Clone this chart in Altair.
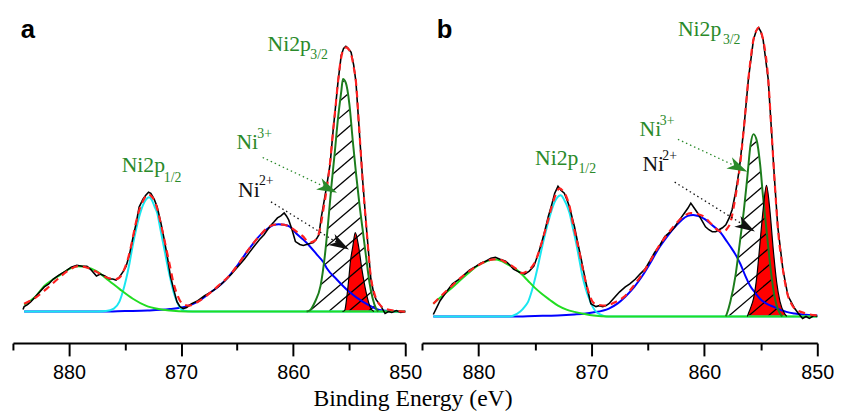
import altair as alt
import pandas as pd
import numpy as np

# ---------------- panel a ----------------
a_raw_E = [884.1, 884.0, 883.7, 883.4, 883.0, 882.6, 882.2, 881.8, 881.4, 880.9, 880.3, 879.8, 879.3, 878.8,
           878.4, 878.0, 877.55, 877.2, 876.8, 876.4, 876.1, 875.8, 875.5, 875.2, 874.9, 874.6, 874.33, 874.0,
           873.74, 873.4, 873.15, 872.9, 872.7, 872.4, 872.13, 871.8, 871.5, 871.2, 870.95, 870.65, 870.37,
           870.1, 869.8, 869.5, 869.05, 868.5, 867.9, 867.3, 866.7, 866.1, 865.5, 864.9, 864.36, 863.9, 863.5,
           863.0, 862.6, 862.1, 861.7, 861.4, 861.1, 860.8, 860.6, 860.4, 860.1, 859.8, 859.4, 859.1, 858.8,
           858.5, 858.2, 857.9, 857.7, 857.5, 857.3, 857.0, 856.7, 856.44, 856.2, 856.0, 855.71, 855.5, 855.3,
           855.1, 854.83, 854.6, 854.4, 854.1, 853.8, 853.45, 853.07, 852.8, 852.6, 852.2, 851.8, 851.5, 851.2,
           850.8, 850.4, 850.0]
a_raw_I = [2, 5, 7, 10, 15, 20, 25, 28, 33, 37, 41, 45, 47, 46,
           46, 42, 36, 38, 36, 33, 33, 32, 35, 40, 46, 58, 73, 90,
           106, 114, 118, 121, 120, 114, 106, 90, 73, 54, 36, 22, 10,
           5, 3, 4, 8, 11, 16, 20, 25, 31, 38, 46, 53, 60, 66,
           73, 78, 86, 91, 95, 97, 100, 97, 93, 83, 71, 68, 67, 68,
           69, 70, 74, 78, 95, 108, 128, 150, 183, 210, 233, 260, 267, 269,
           267, 263, 250, 233, 183, 133, 83, 33, 18, 12, 6, -2, 0, -1,
           1, -1, 0]

a_fit_E = [884.0, 883.0, 882.0, 881.0, 880.0, 879.2, 878.5, 877.5, 876.5, 875.8, 875.3, 875.06, 874.75, 874.47,
           874.03, 873.7, 873.45, 873.15, 872.9, 872.65, 872.4, 872.1, 871.83, 871.55, 871.25, 870.95, 870.7,
           870.4, 870.1, 869.7, 869.3, 868.5, 867.3, 866.5, 865.8, 864.9, 864.1, 863.5, 862.9, 862.3, 861.7,
           861.2, 860.8, 860.3, 859.7, 859.1, 858.8, 858.5, 858.2, 857.9, 857.6, 857.3, 857.0, 856.7, 856.44,
           856.2, 856.0, 855.71, 855.45, 855.27, 855.05, 854.83, 854.6, 854.4, 854.1, 853.8, 853.45, 853.07,
           852.8, 852.6, 852.2, 851.8, 851.0, 850.0]
a_fit_I = [8, 14, 23, 33, 42, 46, 45, 40, 34, 33, 37, 43, 53, 66,
           90, 104, 111, 117, 119, 117, 113, 103, 90, 76, 60, 44, 30,
           19, 11, 7, 6, 10, 20, 28, 35, 48, 61, 70, 78, 85, 88,
           88.5, 88, 86, 81, 76, 72, 70, 71, 74, 84, 104, 125, 152, 183,
           210, 233, 258, 267, 268, 266, 261, 248, 233, 184, 133, 83, 35,
           20, 13, 6, 3, 1, 0]

a_blue_E = [884.0, 877.0, 875.0, 873.0, 871.0, 869.6, 868.5, 867.3, 866.5, 865.8, 864.9, 864.1, 863.5, 862.9,
            862.3, 861.7, 861.3, 860.8, 860.3, 859.7, 859.1, 858.5, 857.9, 857.3, 857.0, 856.15, 855.0, 853.8,
            853.0, 852.3, 851.5, 850.0]
a_blue_I = [0, 0, 0.5, 1, 2.5, 5, 10, 20, 27, 35, 48, 61, 70, 78,
            84, 88, 88.5, 88, 86, 79, 73, 66, 58, 50, 44, 33, 20, 10,
            5, 1.5, 0.5, 0]

a_cyan_E = [884.0, 877.5, 876.7, 876.0, 875.5, 875.2, 874.9, 874.6, 874.33, 874.0, 873.74, 873.4, 873.1, 872.86,
            872.6, 872.35, 872.13, 871.85, 871.54, 871.25, 870.95, 870.65, 870.37, 870.1, 869.8, 869.0, 850.0]
a_cyan_I = [0, 0, 0.5, 3, 10, 20, 33, 49, 66, 84, 96, 108, 114, 116,
            113, 106, 100, 84, 66, 49, 33, 19, 10, 4, 1, 0, 0]

a_green_E = [884.0, 883.0, 882.2, 881.5, 880.8, 880.0, 879.2, 878.4, 877.55, 876.4, 875.5, 874.3, 873.15, 872.0,
             871.0, 869.5, 850.0]
a_green_I = [7, 15, 26, 32, 37, 43, 46, 45, 41, 31, 23, 13, 6, 2.5,
             1, 0, 0]

a_ni3_E = [858.8, 858.5, 858.06, 857.56, 857.18, 856.88, 856.6, 856.3, 856.0, 855.71, 855.56, 855.3, 854.98,
           854.68, 854.39, 854.1, 853.8, 853.5, 853.2, 852.9, 852.6, 852.4]
a_ni3_I = [0, 1.3, 9.7, 26, 56, 90, 126, 160, 196, 223, 236, 232, 210,
           173, 140, 110, 83, 56, 30, 13, 3, 0]

a_ni2_E = [855.6, 855.4, 855.2, 855.04, 854.9, 854.68, 854.46, 854.16, 853.87, 853.5, 853.07, 852.8]
a_ni2_I = [0, 1.3, 16, 33, 50, 66, 80, 66, 43, 20, 3, 0]

# ---------------- panel b ----------------
b_raw_E = [884.0, 883.7, 883.4, 882.9, 882.3, 881.8, 881.4, 880.8, 880.2, 879.8, 879.35, 878.9, 878.5, 878.1,
           877.6, 877.2, 876.9, 876.4, 875.9, 875.5, 875.1, 874.75, 874.4, 874.1, 873.83, 873.5, 873.25,
           872.96, 872.7, 872.4, 872.15, 871.94, 871.7, 871.5, 871.2, 870.9, 870.5, 870.05, 869.6, 869.3, 869.0,
           868.7, 868.45, 867.9, 867.5, 867.0, 866.6, 866.1, 865.7, 865.25, 864.8, 864.4, 863.9, 863.5, 863.0,
           862.6, 862.2, 861.76, 861.45, 861.2, 860.9, 860.6, 860.2, 859.9, 859.6, 859.3, 859.0, 858.7, 858.4,
           858.1, 857.8, 857.55, 857.25, 857.1, 856.9, 856.5, 856.1, 855.65, 855.4, 855.2, 855.0, 854.8, 854.35,
           854.07, 853.8, 853.5, 853.05, 852.6, 852.0, 851.6, 851.3, 851.0, 850.7, 850.3, 850.0]
b_raw_I = [2, 9, 16, 24, 33, 37, 41, 47, 51, 54, 56, 59, 60, 58,
           56, 52, 48, 45, 43, 46, 51, 62, 75, 88, 101, 114, 125,
           132, 128, 125, 118, 111, 100, 91, 74, 58, 35, 13, 10, 11, 10,
           11, 13, 20, 25, 30, 33, 38, 43, 48, 57, 65, 73, 81, 86,
           91, 98, 105, 110, 115, 110, 105, 97, 91, 88, 86, 86, 88, 90,
           93, 100, 108, 125, 135, 150, 191, 241, 281, 290, 293, 289, 281, 241,
           191, 141, 91, 48, 21, 8, 2, -2, 0, -2, 1, 0]

b_fit_E = [884.0, 883.2, 882.27, 881.5, 880.8, 880.0, 879.35, 878.6, 878.2, 877.6, 877.0, 876.5, 876.16, 875.7,
           875.3, 875.0, 874.7, 874.4, 874.1, 873.83, 873.5, 873.25, 873.0, 872.8, 872.5, 872.2, 871.9, 871.65,
           871.35, 871.06, 870.8, 870.5, 870.2, 869.9, 869.5, 868.7, 868.0, 867.0, 866.2, 865.5, 864.8, 864.1,
           863.3, 862.6, 861.9, 861.2, 860.6, 860.0, 859.4, 858.85, 858.5, 858.27, 858.0, 857.7, 857.45, 857.25,
           856.9, 856.5, 856.1, 855.65, 855.4, 855.2, 855.0, 854.8, 854.35, 854.07, 853.8, 853.5, 853.05, 852.6,
           852.3, 852.0, 851.0, 850.0]
b_fit_I = [13, 22, 32, 40, 46, 52, 56, 58, 58, 55, 51, 47, 44, 46,
           50, 55, 64, 75, 87, 98, 112, 121, 128, 130, 127, 121, 110, 95,
           80, 65, 50, 35, 23, 15, 12, 11, 14, 21, 32, 43, 56, 70,
           83, 93, 101, 105, 104, 101, 94, 88, 86, 86, 89, 95, 108, 121,
           148, 191, 241, 281, 290, 293, 289, 281, 241, 191, 141, 91, 48, 21,
           13, 8, 3, 1]

b_blue_E = [884.0, 877.0, 875.0, 873.0, 871.5, 870.5, 869.9, 868.45, 867.7, 867.0, 866.2, 865.5, 864.8, 864.1,
            863.3, 862.6, 862.0, 861.47, 861.0, 860.6, 860.0, 859.46, 858.56, 858.0, 857.7, 857.2, 856.8, 856.4,
            855.94, 855.5, 855.07, 854.5, 853.9, 853.3, 852.74, 852.0, 851.3, 850.0]
b_blue_I = [0, 0, 0.5, 1, 2, 3, 4, 8, 13, 20, 30, 41, 54, 68,
            81, 91, 98, 102, 103, 102, 99, 94, 85, 76, 71, 62, 53, 42,
            31, 24, 18, 13, 10, 7, 4.7, 3, 2, 1]

b_cyan_E = [884.0, 877.2, 876.9, 876.3, 875.9, 875.6, 875.3, 875.0, 874.7, 874.42, 874.05, 873.7, 873.3, 873.0,
            872.72, 872.4, 872.15, 871.94, 871.65, 871.36, 871.06, 870.8, 870.5, 870.2, 869.9, 869.6, 869.2,
            868.7, 850.0]
b_cyan_I = [0, 0, 1, 5, 10, 15, 25, 38, 53, 68, 86, 101, 115, 121,
            123, 118, 112, 105, 90, 75, 57, 41, 28, 18, 10, 5, 2,
            0, 0]

b_green_E = [884.0, 883.2, 882.27, 881.5, 880.8, 880.0, 879.3, 878.63, 877.9, 877.3, 876.7, 876.1, 875.6, 875.0,
             874.4, 873.7, 872.96, 872.2, 871.5, 870.6, 869.8, 868.5, 850.0]
b_green_I = [13, 21, 30, 38, 45, 52, 56, 58, 56, 52, 48, 42, 36, 29,
             23, 17, 11, 7, 4.7, 2.5, 1, 0, 0]

b_ni3_E = [858.1, 858.0, 857.7, 857.25, 856.86, 856.5, 856.2, 855.9, 855.65, 855.35, 855.07, 854.8, 854.5,
           854.2, 853.9, 853.6, 853.3, 853.1]
b_ni3_I = [0, 3, 15, 41, 75, 108, 141, 175, 185, 178, 155, 121, 88,
           55, 28, 11, 3, 0]

b_ni2_E = [856.2, 856.1, 855.9, 855.65, 855.35, 855.07, 854.8, 854.5, 854.2, 853.9, 853.6, 853.3, 852.9, 852.7]
b_ni2_I = [0, 3, 9, 18, 41, 75, 108, 133, 108, 68, 35, 15, 3, 0]

# ---------------- annotations ----------------
ann_main_text = ["Ni2p", "Ni2p", "Ni", "Ni"]
ann_sub_text = ["3/2", "1/2", "3+", "2+"]
ann_color = ["#2a8a2a", "#2a8a2a", "#2a8a2a", "#111111"]
a_main_E = [862.28, 875.3, 865.06, 864.92]
a_main_I = [264.7, 141.3, 164.7, 116.3]
a_sub_E = [858.47, 871.54, 863.2, 863.05]
a_sub_I = [255.7, 131.3, 176.3, 128.0]
b_main_E = [862.34, 874.99, 865.74, 865.48]
b_main_I = [284.7, 154.0, 183.0, 147.3]
b_sub_E = [858.36, 871.15, 863.94, 863.73]
b_sub_I = [276.3, 145.7, 194.0, 158.7]

arrow_color = ["#2a8a2a", "#111111"]
arrow_angle = [26, 30]
a_arrow_E = [862.72, 861.98]
a_arrow_I = [156.3, 111.3]
a_arrow_E2 = [856.9, 855.8]
a_arrow_I2 = [125.0, 68.0]
b_arrow_E = [862.34, 862.63]
b_arrow_I = [179.7, 136.3]
b_arrow_E2 = [857.0, 856.3]
b_arrow_I2 = [151.3, 91.3]

panel_letters = ["a", "b"]
letter_E = [884.3, 883.7]
letter_I = [278, 282]

x_ticks = [885, 880, 875, 870, 865, 860, 855, 850]

DKGREEN = "#1c7c1c"
SERIF = "Liberation Serif"
SANS = "Liberation Sans"
ARROW = "M 1 0 L -1 -0.62 L -0.45 0 L -1 0.62 Z"


def hatch_segments(E, I, ppe, k=0.85, step=20.0):
    u = (885 - np.asarray(E, float)) * ppe
    f = np.asarray(I, float)
    us = np.arange(u.min(), u.max(), 0.2)
    fs = np.interp(us, u, f)
    rows = []
    c = u.min() - f.max() / k - step
    while c < u.max():
        L = k * (us - c)
        inside = (L > 0.5) & (L < fs - 1.0)
        idx = np.flatnonzero(inside)
        if idx.size:
            breaks = np.flatnonzero(np.diff(idx) > 1)
            starts = np.concatenate([[idx[0]], idx[breaks + 1]])
            ends = np.concatenate([idx[breaks], [idx[-1]]])
            for s, e in zip(starts, ends):
                if e - s > 2:
                    rows.append({"E": 885 - us[s] / ppe, "I": L[s],
                                 "E2": 885 - us[e] / ppe, "I2": L[e]})
        c += step
    return pd.DataFrame(rows)


def panel(raw, fit, blue, cyan, green, ni3, ni2, ppe, ydom, w, h,
          mE, mI, sE, sI, arE, arI, arE2, arI2, letter, lE, lI):
    xs = alt.Scale(domain=[885, 850], nice=False, zero=False)
    ys = alt.Scale(domain=ydom, nice=False, zero=False)
    xaxis = alt.Axis(values=x_ticks,
                     labelExpr="datum.value % 10 === 0 ? datum.label : ''",
                     tickSize={"condition": {"test": "datum.value % 10 === 0", "value": 13}, "value": 7},
                     domainColor="black", domainWidth=2, tickColor="black", tickWidth=2,
                     labelFont=SANS, labelFontSize=20, labelColor="black", labelPadding=7,
                     labelFlush=False, labelOverlap=False, grid=False, title=None)
    X = alt.X("E:Q", scale=xs, axis=xaxis)
    Y = alt.Y("I:Q", scale=ys, axis=None)

    def df(E, I):
        return pd.DataFrame({"E": E, "I": I})

    def line(E, I, **kw):
        return alt.Chart(df(E, I)).mark_line(**kw).encode(x=X, y=Y, order="idx:Q").transform_window(
            idx="row_number()")

    layers = []
    layers.append(alt.Chart(df(*ni2)).mark_area(color="#ff0000", interpolate="monotone", opacity=1)
                  .encode(x=X, y=Y))
    hd = hatch_segments(ni3[0], ni3[1], ppe)
    layers.append(alt.Chart(hd).mark_rule(color="black", strokeWidth=1.3)
                  .encode(x=X, x2="E2:Q", y=Y, y2="I2:Q"))
    layers.append(line(*blue, color="#0000ff", strokeWidth=2, interpolate="monotone"))
    layers.append(line(*cyan, color="#19e6f0", strokeWidth=2, interpolate="monotone"))
    layers.append(line(*green, color="#22dd22", strokeWidth=2, interpolate="monotone"))
    layers.append(line(*ni3, color=DKGREEN, strokeWidth=2, interpolate="monotone"))
    layers.append(line(*ni2, color="black", strokeWidth=1.2, interpolate="monotone"))
    layers.append(line(*raw, color="black", strokeWidth=1.6))
    layers.append(line(*fit, color="#ff2020", strokeWidth=2.2, strokeDash=[7, 5], interpolate="monotone"))

    adf = pd.DataFrame({"E": arE, "I": arI, "E2": arE2, "I2": arI2, "c": arrow_color, "ang": arrow_angle})
    layers.append(alt.Chart(adf).mark_rule(strokeWidth=1.3, strokeDash=[1.5, 3])
                  .encode(x=X, x2="E2:Q", y=Y, y2="I2:Q", color=alt.Color("c:N", scale=None)))
    layers.append(alt.Chart(adf).mark_point(shape=ARROW, size=420, filled=True, opacity=1)
                  .encode(x=alt.X("E2:Q", scale=xs, axis=xaxis), y=alt.Y("I2:Q", scale=ys, axis=None),
                          color=alt.Color("c:N", scale=None), angle=alt.Angle("ang:Q", scale=None)))

    mdf = pd.DataFrame({"E": mE, "I": mI, "t": ann_main_text, "c": ann_color})
    sdf = pd.DataFrame({"E": sE, "I": sI, "t": ann_sub_text, "c": ann_color})
    layers.append(alt.Chart(mdf).mark_text(align="left", baseline="alphabetic", font=SERIF, fontSize=22)
                  .encode(x=X, y=Y, text="t:N", color=alt.Color("c:N", scale=None)))
    layers.append(alt.Chart(sdf).mark_text(align="left", baseline="alphabetic", font=SERIF, fontSize=14)
                  .encode(x=X, y=Y, text="t:N", color=alt.Color("c:N", scale=None)))
    ldf = pd.DataFrame({"E": [lE], "I": [lI], "t": [letter]})
    layers.append(alt.Chart(ldf).mark_text(align="left", baseline="alphabetic", font=SANS, fontSize=26,
                                           fontWeight="bold", color="black")
                  .encode(x=X, y=Y, text="t:N"))
    return alt.layer(*layers).properties(width=w, height=h)


pa = panel((a_raw_E, a_raw_I), (a_fit_E, a_fit_I), (a_blue_E, a_blue_I), (a_cyan_E, a_cyan_I),
           (a_green_E, a_green_I), (a_ni3_E, a_ni3_I), (a_ni2_E, a_ni2_I),
           11.37, [-32, 303], 398, 335,
           a_main_E, a_main_I, a_sub_E, a_sub_I, a_arrow_E, a_arrow_I, a_arrow_E2, a_arrow_I2,
           panel_letters[0], letter_E[0], letter_I[0])
pb = panel((b_raw_E, b_raw_I), (b_fit_E, b_fit_I), (b_blue_E, b_blue_I), (b_cyan_E, b_cyan_I),
           (b_green_E, b_green_I), (b_ni3_E, b_ni3_I), (b_ni2_E, b_ni2_I),
           11.46, [-27, 308], 401, 335,
           b_main_E, b_main_I, b_sub_E, b_sub_I, b_arrow_E, b_arrow_I, b_arrow_E2, b_arrow_I2,
           panel_letters[1], letter_E[1], letter_I[1])

chart = alt.hconcat(pa, pb, spacing=17, bounds="flush").resolve_scale(x="independent", y="independent").properties(
    padding={"left": 4, "top": 2, "right": 4, "bottom": 0},
    title=alt.TitleParams(text="Binding Energy (eV)", orient="bottom", anchor="middle", font=SERIF,
                          fontSize=24, fontWeight="normal", color="black", dx=-10, offset=5),
).configure_view(stroke=None, strokeWidth=0)

chart.save("out.html", embed_options={"renderer": "svg", "actions": False})
